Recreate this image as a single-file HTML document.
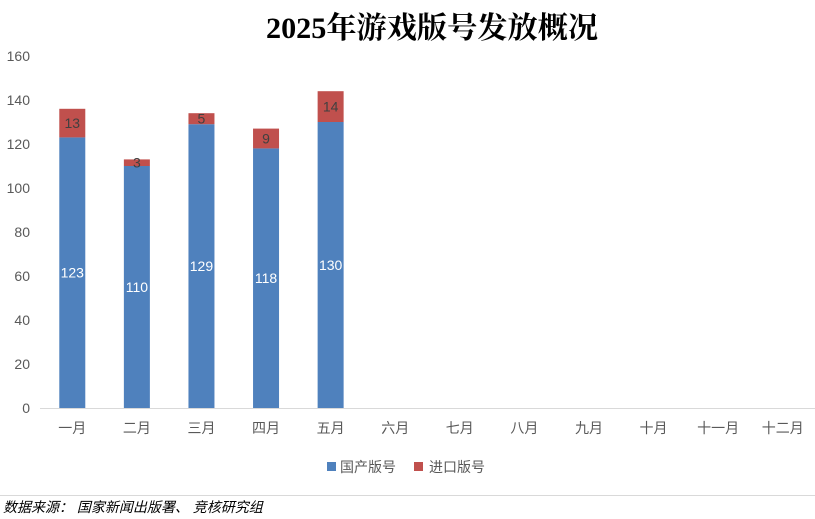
<!DOCTYPE html>
<html><head><meta charset="utf-8"><style>
body{margin:0;background:#fff;width:815px;height:519px;overflow:hidden}
svg{display:block}
</style></head><body>
<svg id="c" width="815" height="519" xmlns="http://www.w3.org/2000/svg" font-family="Liberation Sans, Noto Sans CJK SC, sans-serif">
<text x="266" y="38" textLength="332" lengthAdjust="spacingAndGlyphs" font-family="Liberation Serif, Noto Serif CJK SC, serif" font-size="30" font-weight="bold" fill="#000">2025年游戏版号发放概况</text>
<g id="plot"></g>
<g>
<rect x="327" y="462" width="9" height="9" fill="#4f81bd"/>
<text x="340" y="472" font-size="14" fill="#595959">国产版号</text>
<rect x="414" y="462" width="9" height="9" fill="#c0504d"/>
<text x="429" y="472" font-size="14" fill="#595959">进口版号</text>
</g>
<line x1="0" y1="495.5" x2="815" y2="495.5" stroke="#d9d9d9"/>
<text x="3" y="512" font-size="14" font-style="italic" fill="#000">数据来源： 国家新闻出版署、 竞核研究组</text>
</svg>
<script>
const categories=["一月","二月","三月","四月","五月","六月","七月","八月","九月","十月","十一月","十二月"];
const domestic=[123,110,129,118,130,null,null,null,null,null,null,null];
const imported=[13,3,5,9,14,null,null,null,null,null,null,null];
const yTicks=[0,20,40,60,80,100,120,140,160];
const NS="http://www.w3.org/2000/svg";
const g=document.getElementById("plot");
const x0=40,x1=815,y0=408,y1=56,ymax=160;
const step=(x1-x0)/categories.length;
const xc=i=>x0+step*(i+0.5);
const y=v=>y0-(v/ymax)*(y0-y1);
function mk(t,a){const e=document.createElementNS(NS,t);for(const k in a)e.setAttribute(k,a[k]);g.appendChild(e);return e;}
yTicks.forEach(v=>{const t=mk("text",{x:30,y:y(v)+5,"text-anchor":"end","font-size":14,fill:"#595959"});t.textContent=v;

});
const ax=mk("line",{x1:x0,y1:y0+0.5,x2:x1,y2:y0+0.5,stroke:"#d9d9d9"});


categories.forEach((c,i)=>{const t=mk("text",{x:xc(i),y:433,"text-anchor":"middle","font-size":14,fill:"#595959"});t.textContent=c;

});
const bw=26;
domestic.forEach((d,i)=>{if(d==null)return;const im=imported[i];
const b=mk("rect",{x:xc(i)-bw/2,y:y(d),width:bw,height:y0-y(d),fill:"#4f81bd"});


const r=mk("rect",{x:xc(i)-bw/2,y:y(d+im),width:bw,height:y(d)-y(d+im),fill:"#c0504d"});


const t=mk("text",{x:xc(i),y:(y(d)+y0)/2+5,"text-anchor":"middle","font-size":14,fill:"#fff"});t.textContent=d;


const t2=mk("text",{x:xc(i),y:(y(d)+y(d+im))/2+5,"text-anchor":"middle","font-size":14,fill:"#404040"});t2.textContent=im;


});
</script>
</body></html>
